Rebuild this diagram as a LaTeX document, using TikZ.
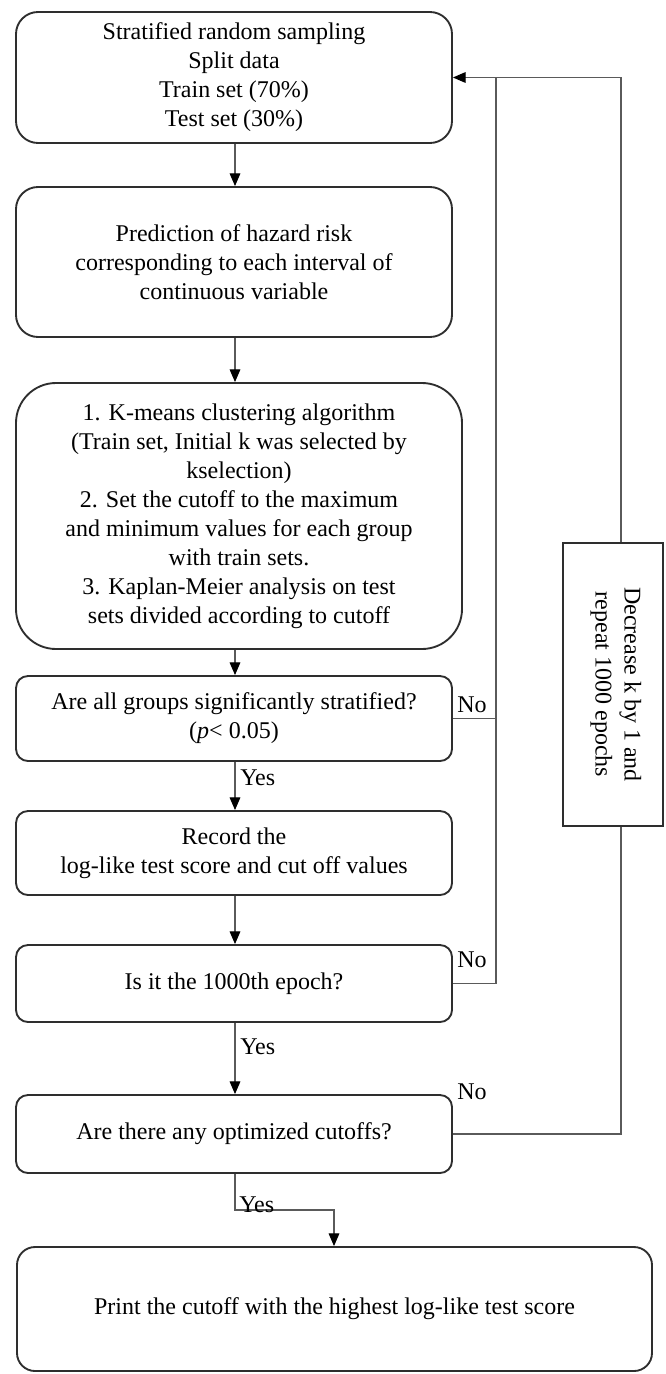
\documentclass[tikz,border=0pt]{standalone}
\usepackage{fontspec}
\setmainfont{Liberation Serif}
\usetikzlibrary{arrows.meta}
\definecolor{boxgray}{HTML}{2E2E2E}
\definecolor{linegray}{HTML}{5A5A5A}
\begin{document}
\begin{tikzpicture}[x=0.75pt,y=-0.75pt,
  txt/.style={font=\fontsize{18pt}{21.75pt}\selectfont},
  stepbox/.style={txt, draw=boxgray, line width=1.4pt, align=center, inner sep=0pt},
  conn/.style={draw=linegray, line width=0.8pt},
  arr/.style={-{Triangle[length=9.5pt,width=8pt,color=black]}},
  lbl/.style={txt, inner sep=0pt, anchor=west}]
\useasboundingbox[fill=white] (0,0) rectangle (665,1374);

% main column of steps
\node[stepbox, rounded corners=16.5pt, minimum width=327pt, minimum height=98.25pt] (b1) at (234,77.5)
  {Stratified random sampling\\Split data\\Train set (70\%)\\Test set (30\%)};
\node[stepbox, rounded corners=16.5pt, minimum width=327pt, minimum height=112.5pt] (b2) at (234,262)
  {Prediction of hazard risk\\corresponding to each interval of\\continuous variable};
\node[stepbox, rounded corners=30pt, minimum width=334.5pt, minimum height=199.5pt] (b3) at (239,516)
  {1. K-means clustering algorithm\\(Train set, Initial k was selected by\\kselection)\\2. Set the cutoff to the maximum\\and minimum values for each group\\with train sets.\\3. Kaplan-Meier analysis on test\\sets divided according to cutoff};
\node[stepbox, rounded corners=9pt, minimum width=327pt, minimum height=63.75pt] (b4) at (234,718.5)
  {Are all groups significantly stratified?\\(\textit{p}< 0.05)};
\node[stepbox, rounded corners=9pt, minimum width=327pt, minimum height=63pt] (b5) at (234,853)
  {Record the\\log-like test score and cut off values};
\node[stepbox, rounded corners=9pt, minimum width=327pt, minimum height=57.75pt] (b6) at (234,983.5)
  {Is it the 1000th epoch?};
\node[stepbox, rounded corners=9pt, minimum width=327pt, minimum height=58.5pt] (b7) at (234,1134)
  {Are there any optimized cutoffs?};
\node[stepbox, rounded corners=13.5pt, minimum width=476.25pt, minimum height=93pt] (fin) at (334.5,1309)
  {Print the cutoff with the highest log-like test score};

% side box of the outer loop
\node[draw=boxgray, line width=1.4pt, minimum width=75pt, minimum height=212.25pt, inner sep=0pt] (dec) at (613,684.5) {};
\node[txt, rotate=-90, align=center, inner sep=0pt] (dectext) at (616,684.5)
  {Decrease k by 1 and\\repeat 1000 epochs};

% routing columns
\coordinate (ax) at (235,0);
\coordinate (fx) at (334,0);
\coordinate (inner) at (496,0);
\coordinate (outer) at (621,0);
\coordinate (yesrow) at (0,1210);

% forward flow
\draw[conn,arr] (b1.south -| ax) -- (b2.north -| ax);
\draw[conn,arr] (b2.south -| ax) -- (b3.north -| ax);
\draw[conn,arr] (b3.south -| ax) -- (b4.north -| ax);
\draw[conn,arr] (b4.south -| ax) -- (b5.north -| ax);
\draw[conn,arr] (b5.south -| ax) -- (b6.north -| ax);
\draw[conn,arr] (b6.south -| ax) -- (b7.north -| ax);
\draw[conn,arr] (b7.south -| ax) -- (yesrow -| ax) -- (yesrow -| fx) -- (fin.north -| fx);

% inner loop back to the split
\draw[conn] (b4.east) -- (b4.east -| inner);
\draw[conn] (b6.east) -- (b6.east -| inner) -- (b1.east -| inner);

% outer loop through the side box
\draw[conn] (b7.east) -- (b7.east -| outer) -- (dec.south -| outer);
\draw[conn,arr] (dec.north -| outer) -- (b1.east -| outer) -- (b1.east);

% branch labels
\node[lbl] (yes1) at (240,778) {Yes};
\node[lbl] (yes2) at (240,1047) {Yes};
\node[lbl] (yes3) at (239,1205) {Yes};
\node[lbl] (no1) at (457,705) {No};
\node[lbl] (no2) at (457,960) {No};
\node[lbl] (no3) at (457,1092) {No};
\end{tikzpicture}
\end{document}
